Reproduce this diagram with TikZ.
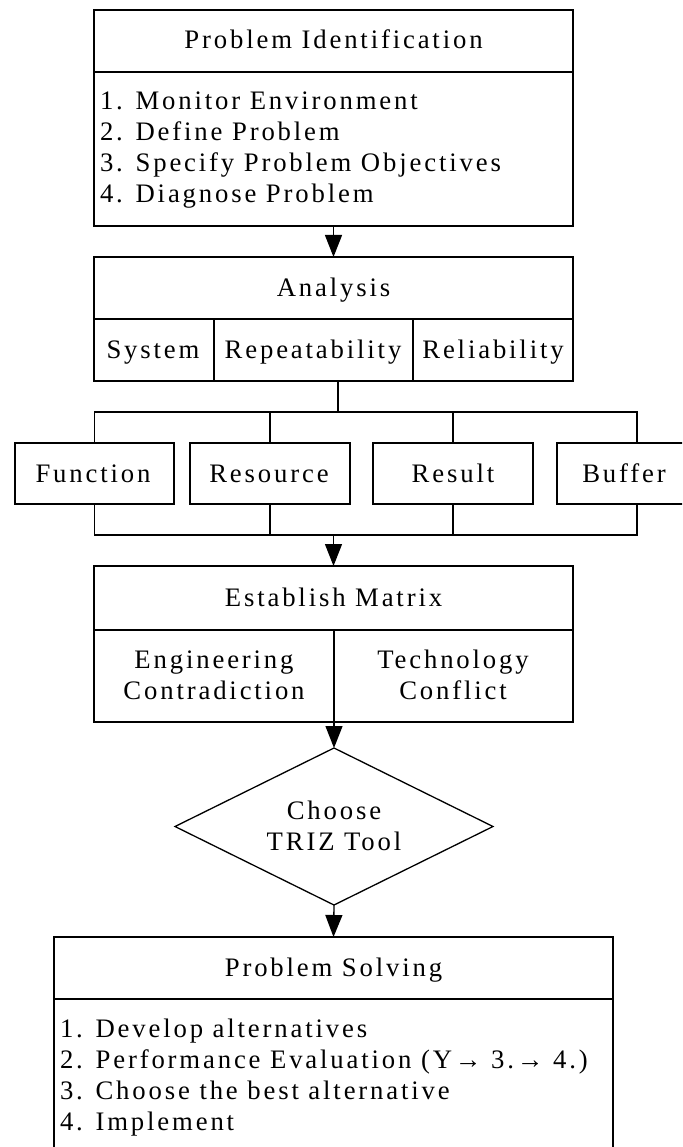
\documentclass[tikz,border=0pt]{standalone}
\usepackage{fontspec}
\setmainfont{Liberation Serif}[LetterSpace=10.7]
\usetikzlibrary{arrows.meta,shapes.geometric,calc}
\begin{document}
\begin{tikzpicture}[x=1pt,y=-1pt,line width=1.3pt,
  box/.style={draw,inner sep=0pt,outer sep=0pt},
  txt/.style={inner sep=0pt,outer sep=0pt,font=\fontsize{26.7}{31}\selectfont},
  arr/.style={-{Triangle[length=22pt,width=17pt]}}]
\useasboundingbox (0,0) rectangle (682,1147);
\clip (0,0) rectangle (682,1147);

% Problem Identification
\node[box,minimum width=479pt,minimum height=216pt] (pi) at (333.5,118) {};
\draw ($(pi.north west)+(0,62)$) -- ($(pi.north east)+(0,62)$);
\node[txt,anchor=base] (pititle) at (333.5,49) {Problem Identification};
\node[txt,anchor=base west] (pi1) at (100,110) {1. Monitor Environment};
\node[txt,anchor=base west] (pi2) at (100,141) {2. Define Problem};
\node[txt,anchor=base west] (pi3) at (100,172) {3. Specify Problem Objectives};
\node[txt,anchor=base west] (pi4) at (100,203) {4. Diagnose Problem};

% Analysis
\node[box,minimum width=479pt,minimum height=124pt] (an) at (333.5,319) {};
\draw (an.west) -- (an.east);
\draw ($(an.south west)+(120,0)$) -- ($(an.west)+(120,0)$);
\draw ($(an.south west)+(319,0)$) -- ($(an.west)+(319,0)$);
\node[txt,anchor=base] (antitle) at (333.5,296) {Analysis};
\node[txt,anchor=base] (sys) at (153,358) {System};
\node[txt,anchor=base] (rep) at (313,358) {Repeatability};
\node[txt,anchor=base] (rel) at (493,358) {Reliability};

% four boxes
\node[box,minimum width=159pt,minimum height=61pt] (fn) at (94.5,473.5) {};
\node[box,minimum width=160pt,minimum height=61pt] (rs) at (270,473.5) {};
\node[box,minimum width=160pt,minimum height=61pt] (rt) at (453,473.5) {};
\node[box,minimum width=160pt,minimum height=61pt] (bf) at (637,473.5) {};
\node[txt,anchor=base] (fntxt) at (93,482) {Function};
\node[txt,anchor=base] (rstxt) at (269,482) {Resource};
\node[txt,anchor=base] (rttxt) at (453,482) {Result};
\node[txt,anchor=base] (bftxt) at (624,482) {Buffer};

% upper bus
\coordinate (bus1) at (338,412);
\draw (bus1 |- an.south) -- (bus1);
\draw (fn.north) |- (bus1);
\draw (bf.north) |- (bus1);
\draw (rs.north) -- (rs.north |- bus1);
\draw (rt.north) -- (rt.north |- bus1);

% lower bus
\coordinate (bus2) at (333.5,535);
\draw (fn.south) |- (bus2);
\draw (bf.south) |- (bus2);
\draw (rs.south) -- (rs.south |- bus2);
\draw (rt.south) -- (rt.south |- bus2);

% Establish Matrix
\node[box,minimum width=479pt,minimum height=156pt] (em) at (333.5,644) {};
\draw ($(em.north west)+(0,64)$) -- ($(em.north east)+(0,64)$);
\coordinate (emdiv) at (334,630);
\node[txt,anchor=base] (emtitle) at (333.5,606) {Establish Matrix};
\node[txt,anchor=base] (eng1) at (214,668) {Engineering};
\node[txt,anchor=base] (eng2) at (214,699) {Contradiction};
\node[txt,anchor=base] (tec1) at (453,668) {Technology};
\node[txt,anchor=base] (tec2) at (453,699) {Conflict};

% diamond
\node[diamond,draw,inner sep=0pt,outer sep=0pt,minimum width=318pt,minimum height=157pt] (dia) at (334,826.5) {};
\node[txt,anchor=base] (ch1) at (334,819.5) {Choose};
\node[txt,anchor=base] (ch2) at (334,850.5) {TRIZ Tool};

% Problem Solving
\node[box,minimum width=559pt,minimum height=223pt] (ps) at (333.5,1048.5) {};
\draw ($(ps.north west)+(0,62)$) -- ($(ps.north east)+(0,62)$);
\node[txt,anchor=base] (pstitle) at (333.5,976) {Problem Solving};
\node[txt,anchor=base west] (ps1) at (60,1037) {1. Develop alternatives};
\node[txt,anchor=base west] (ps2) at (60,1068) {2. Performance Evaluation (Y→ 3.→ 4.)};
\node[txt,anchor=base west] (ps3) at (60,1099) {3. Choose the best alternative};
\node[txt,anchor=base west] (ps4) at (60,1130) {4. Implement};

% arrows
\draw[arr] (pi.south) -- (an.north);
\draw[arr] (bus2) -- (em.north);
\draw[arr] (emdiv) -- (dia.north);
\draw[arr] (dia.south) -- (ps.north);
\end{tikzpicture}
\end{document}
